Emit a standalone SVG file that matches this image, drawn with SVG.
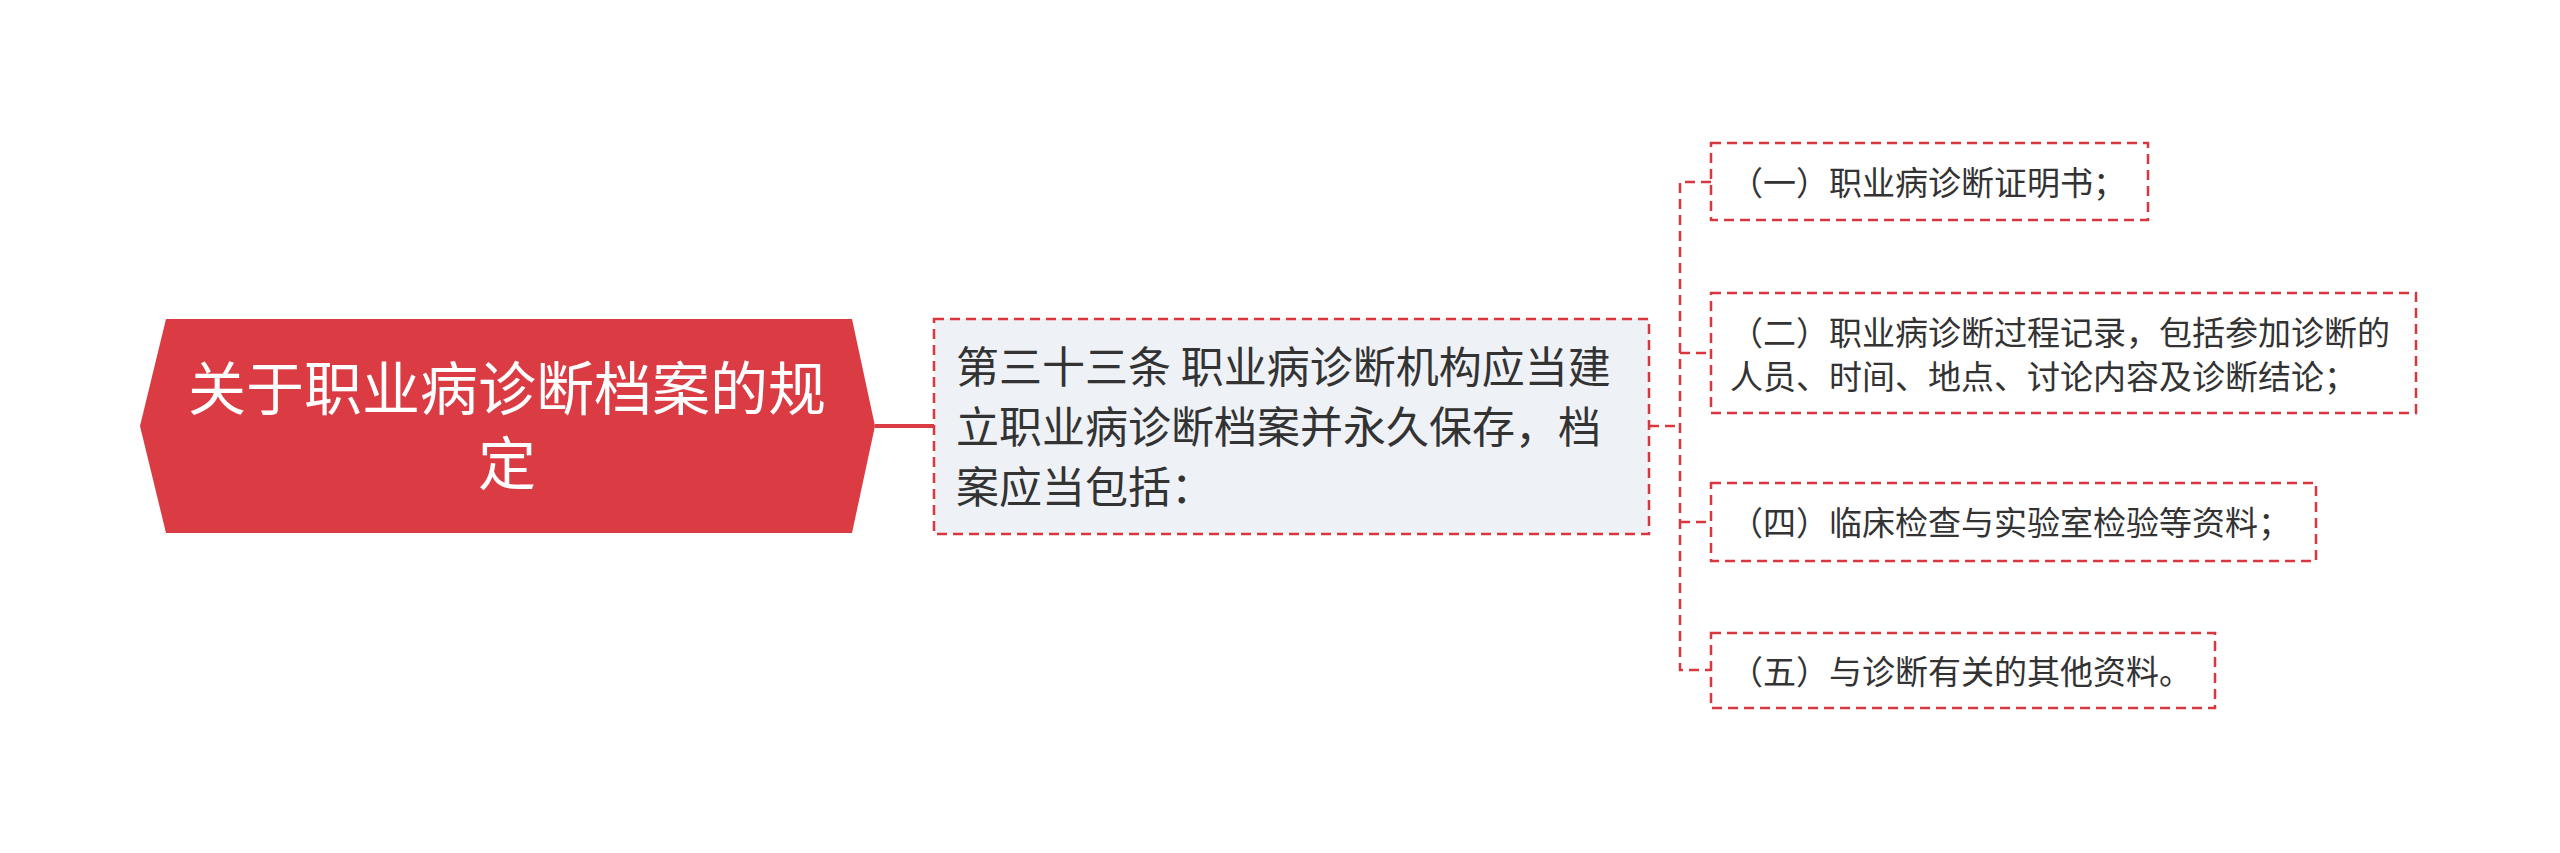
<svg xmlns="http://www.w3.org/2000/svg" width="2560" height="853" viewBox="0 0 2560 853">
<style>
.t{font-family:"Noto Sans CJK SC","Noto Sans",sans-serif;fill:#333333}
.rt{font-family:"Noto Sans CJK SC","Noto Sans",sans-serif;fill:#ffffff;font-size:58px;text-anchor:middle}
.dash{fill:none;stroke:#D9363E;stroke-width:2.5;stroke-dasharray:10 6}
.midbox{fill:#EEF1F5;stroke:#D9363E;stroke-width:2.5;stroke-dasharray:10 6}
.leaf{fill:#ffffff;stroke:#D9363E;stroke-width:2.5;stroke-dasharray:10 6}
.lt{font-size:33px}
</style>
<rect width="2560" height="853" fill="#ffffff"/>
<g id="connectors">
<line x1="875" y1="426" x2="934" y2="426" stroke="#DB3C43" stroke-width="4"/>
<path class="dash" d="M1649 426 H1680"/>
<path class="dash" d="M1711 182 H1680 V670 H1711"/>
<path class="dash" d="M1680 353 H1711"/>
<path class="dash" d="M1680 522 H1711"/>
</g>
<g id="root">
<polygon points="140,426 166,319 852,319 875,426 852,533 166,533" fill="#DB3C43"/>
<text class="rt" x="507" y="410">关于职业病诊断档案的规</text>
<text class="rt" x="507" y="485">定</text>
</g>
<g id="mid">
<rect class="midbox" x="934" y="319" width="715" height="215"/>
<text class="t" font-size="43" x="956" y="383">第三十三条 职业病诊断机构应当建</text>
<text class="t" font-size="43" x="956" y="443">立职业病诊断档案并永久保存，档</text>
<text class="t" font-size="43" x="956" y="503">案应当包括：</text>
</g>
<g id="leaf1">
<rect class="leaf" x="1711" y="143" width="437" height="77"/>
<text class="t lt" x="1730" y="195">（一）职业病诊断证明书；</text>
</g>
<g id="leaf2">
<rect class="leaf" x="1711" y="293" width="705" height="120"/>
<text class="t lt" x="1730" y="345">（二）职业病诊断过程记录，包括参加诊断的</text>
<text class="t lt" x="1730" y="389">人员、时间、地点、讨论内容及诊断结论；</text>
</g>
<g id="leaf4">
<rect class="leaf" x="1711" y="483" width="605" height="78"/>
<text class="t lt" x="1730" y="535">（四）临床检查与实验室检验等资料；</text>
</g>
<g id="leaf5">
<rect class="leaf" x="1711" y="633" width="504" height="75"/>
<text class="t lt" x="1730" y="684">（五）与诊断有关的其他资料。</text>
</g>
</svg>
